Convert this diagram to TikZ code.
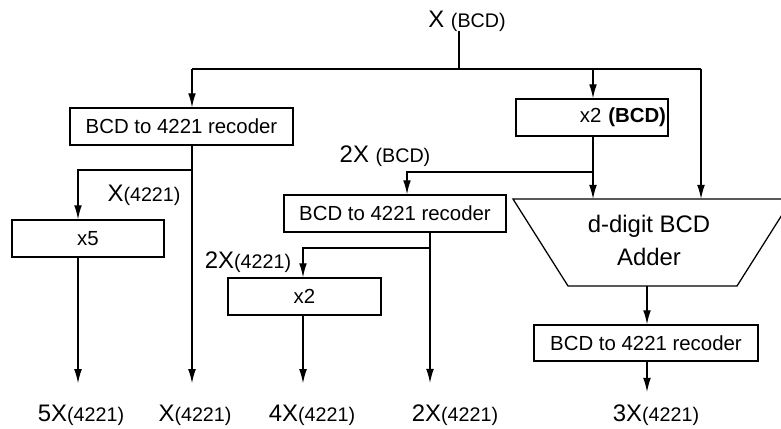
\documentclass[tikz,border=0pt]{standalone}
\usepackage{fontspec}
\setmainfont{Liberation Sans}
\usepackage{tikz}
\usetikzlibrary{arrows.meta}

\newcommand{\cod}[1]{{\fontsize{14}{16}\selectfont #1}} % codifica in piccolo

\tikzset{
	blocco/.style={draw, line width=0.9pt, font=\fontsize{14.5}{17}\selectfont, minimum height=0.925cm, inner sep=0.05cm},
	segnale/.style={font=\fontsize{17}{20}\selectfont, inner sep=0pt, anchor=base},
	uscita/.style={segnale, inner ysep=0.525cm},
	freccia/.style={-{Latex[length=10pt,width=5.5pt]}, line width=0.9pt},
	linea/.style={line width=0.9pt}
}

\begin{document}
\begin{tikzpicture}[x=0.025cm, y=-0.025cm]
		\useasboundingbox (0,0) rectangle (781,428); % margini del disegno
		
		% Colonne e righe dei collegamenti
		\coordinate (cA) at (78,0);
		\coordinate (cB) at (192,0);
		\coordinate (cC) at (303,0);
		\coordinate (cE) at (407,0);
		\coordinate (cD) at (430,0);
		\coordinate (cS) at (459,0);
		\coordinate (cF) at (593,0);
		\coordinate (cH) at (647,0);
		\coordinate (cG) at (701,0);
		\coordinate (bus) at (0,69);
		\coordinate (r1) at (0,170);
		\coordinate (r2) at (0,172);
		\coordinate (r3) at (0,248);
		
		% Blocchi
		\node[blocco, minimum width=5.575cm] (rec1) at (181.5,126.5) {BCD to 4221 recoder};
		\node[blocco, minimum width=3.8cm] (mul5) at (88,238.5) {x5};
		\node[blocco, text width=3.7cm, align=right] (dbl) at (592,117.5) {x2 \textbf{(BCD)}};
		\node[blocco, minimum width=5.55cm] (rec2) at (395,213.5) {BCD to 4221 recoder};
		\node[blocco, minimum width=3.825cm] (mul2) at (304.5,296.5) {x2};
		\node[blocco, minimum width=5.6cm, minimum height=0.9cm] (rec3) at (646,343) {BCD to 4221 recoder};
		
		% Sommatore (tagliato dal bordo destro)
		\coordinate (addtl) at (513,199);
		\coordinate (addtr) at (792,199);
		\coordinate (addbr) at (737,286);
		\coordinate (addbl) at (568,286);
		\begin{scope}
			\clip (0,0) rectangle (781,428);
			\draw[linea] (addtl) -- (addtr) -- (addbr) -- (addbl) -- cycle;
		\end{scope}
		\node[font=\fontsize{17}{23.5}\selectfont, align=center] (adder) at (649,240.5) {d-digit BCD\\Adder};
		
		% Etichette dei segnali
		\node[segnale] (xin) at (467,27) {X \cod{(BCD)}};
		\node[segnale] (lx) at (144,201) {X\cod{(4221)}};
		\node[segnale] (l2b) at (385,162) {2X \cod{(BCD)}};
		\node[segnale] (l2q) at (248,268) {2X\cod{(4221)}};
		\node[uscita] (o5) at (81,421) {5X\cod{(4221)}};
		\node[uscita] (o1) at (195,421) {X\cod{(4221)}};
		\node[uscita] (o4) at (312,421) {4X\cod{(4221)}};
		\node[uscita] (o2) at (455,421) {2X\cod{(4221)}};
		\node[uscita, inner ysep=0.3cm] (o3) at (656,421) {3X\cod{(4221)}};
		
		% Ingresso X
		\draw[linea] (cS |- xin.south) -- (cS |- bus);
		\draw[linea] (cB |- bus) -- (cG |- bus);
		\draw[freccia] (cB |- bus) -- (cB |- rec1.north);
		\draw[freccia] (cF |- bus) -- (cF |- dbl.north);
		\draw[freccia] (cG |- bus) -- (cG |- addtl);
		
		% Ramo di X(4221)
		\draw[freccia] (cB |- rec1.south) -- (cB |- o1.north);
		\draw[freccia] (cB |- r1) -| (cA |- mul5.north);
		\draw[freccia] (cA |- mul5.south) -- (cA |- o5.north);
		
		% Ramo di 2X
		\draw[freccia] (cF |- dbl.south) -- (cF |- addtl);
		\draw[freccia] (cF |- r2) -| (cE |- rec2.north);
		\draw[freccia] (cD |- rec2.south) -- (cD |- o2.north);
		\draw[freccia] (cD |- r3) -| (cC |- mul2.north);
		\draw[freccia] (cC |- mul2.south) -- (cC |- o4.north);
		
		% Uscita del sommatore
		\draw[freccia] (cH |- addbl) -- (cH |- rec3.north);
		\draw[freccia] (cH |- rec3.south) -- (cH |- o3.north);
	\end{tikzpicture}
\end{document}
